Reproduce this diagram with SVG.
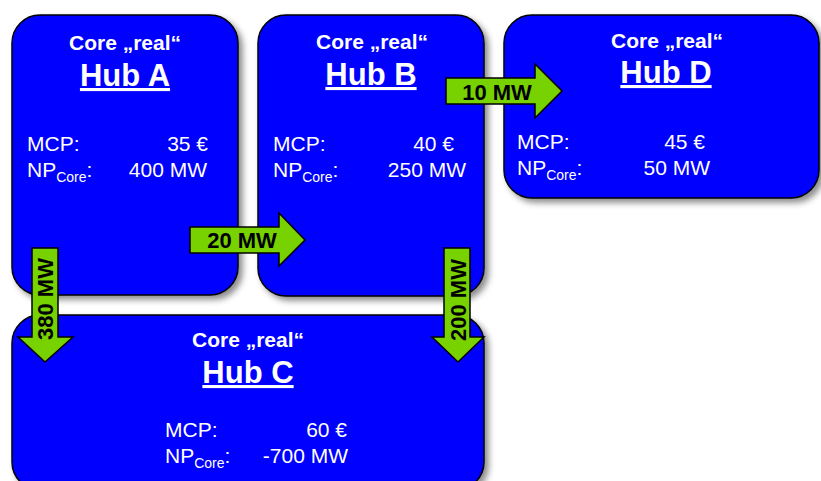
<svg xmlns="http://www.w3.org/2000/svg" width="821" height="481" viewBox="0 0 821 481">
  <defs>
    <filter id="sh" x="-10%" y="-10%" width="130%" height="130%">
      <feDropShadow dx="4" dy="4" stdDeviation="3" flood-color="#000" flood-opacity="0.45"/>
    </filter>
  </defs>
  <style>
    .hub { fill: #0000FF; stroke: #000; stroke-width: 1.5; filter: url(#sh); }
    .t { font-family: "Liberation Sans", Arial, sans-serif; fill: #fff; }
    .core { font-size: 21px; font-weight: bold; text-anchor: middle; }
    .name { font-size: 31px; font-weight: bold; text-anchor: middle; text-decoration: underline; }
    .v { font-size: 21px; }
    .r { text-anchor: end; }
    .sub { font-size: 14px; }
    .arr { fill: #78D200; stroke: #000; stroke-width: 1.5; stroke-linejoin: miter; }
    .al { font-family: "Liberation Sans", Arial, sans-serif; font-size: 22px; font-weight: bold; fill: #000; text-anchor: middle; }
  </style>
  <rect width="821" height="481" fill="#fff"/>

  <g id="hubA">
    <rect class="hub" x="12" y="15" width="226" height="280" rx="28" ry="28"/>
    <text class="t core" x="125" y="50">Core „real“</text>
    <text class="t name" x="125" y="86">Hub A</text>
    <text class="t v" x="27" y="151">MCP:</text>
    <text class="t v r" x="208" y="151">35 €</text>
    <text class="t v" x="27" y="177">NP<tspan class="sub" dy="5">Core</tspan><tspan dy="-5">:</tspan></text>
    <text class="t v r" x="207" y="177">400 MW</text>
  </g>

  <g id="hubB">
    <rect class="hub" x="258" y="15" width="226" height="281" rx="28" ry="28"/>
    <text class="t core" x="372" y="49">Core „real“</text>
    <text class="t name" x="371" y="85">Hub B</text>
    <text class="t v" x="273" y="151">MCP:</text>
    <text class="t v r" x="454" y="151">40 €</text>
    <text class="t v" x="273" y="177">NP<tspan class="sub" dy="5">Core</tspan><tspan dy="-5">:</tspan></text>
    <text class="t v r" x="466" y="177">250 MW</text>
  </g>

  <g id="hubD">
    <rect class="hub" x="504" y="15" width="315" height="183" rx="28" ry="28"/>
    <text class="t core" x="667" y="48">Core „real“</text>
    <text class="t name" x="666" y="83">Hub D</text>
    <text class="t v" x="517" y="149">MCP:</text>
    <text class="t v r" x="705" y="149">45 €</text>
    <text class="t v" x="517" y="175">NP<tspan class="sub" dy="5">Core</tspan><tspan dy="-5">:</tspan></text>
    <text class="t v r" x="710" y="175">50 MW</text>
  </g>

  <g id="hubC">
    <rect class="hub" x="12" y="315" width="472" height="175" rx="28" ry="28"/>
    <text class="t core" x="248" y="347">Core „real“</text>
    <text class="t name" x="248" y="383">Hub C</text>
    <text class="t v" x="165" y="437">MCP:</text>
    <text class="t v r" x="347" y="437">60 €</text>
    <text class="t v" x="165" y="463">NP<tspan class="sub" dy="5">Core</tspan><tspan dy="-5">:</tspan></text>
    <text class="t v r" x="348" y="463">-700 MW</text>
  </g>

  <g id="connectors">
    <g id="AtoB">
      <polygon class="arr" points="190,227 279,227 279,213 305,240 279,266 279,253 190,253"/>
      <text class="al" x="242" y="248">20 MW</text>
    </g>
    <g id="BtoD">
      <polygon class="arr" points="446,78 535,78 535,64 562,91 535,118 535,104 446,104"/>
      <text class="al" x="497" y="100">10 MW</text>
    </g>
    <g id="AtoC">
      <polygon class="arr" points="32,248 58,248 58,337 73,337 45,362 18,337 32,337"/>
      <text class="al" transform="translate(53,299) rotate(-90)">380 MW</text>
    </g>
    <g id="BtoC">
      <polygon class="arr" points="444,248 470,248 470,337 484,337 458,362 432,337 444,337"/>
      <text class="al" transform="translate(466,300) rotate(-90)">200 MW</text>
    </g>
  </g>
</svg>
